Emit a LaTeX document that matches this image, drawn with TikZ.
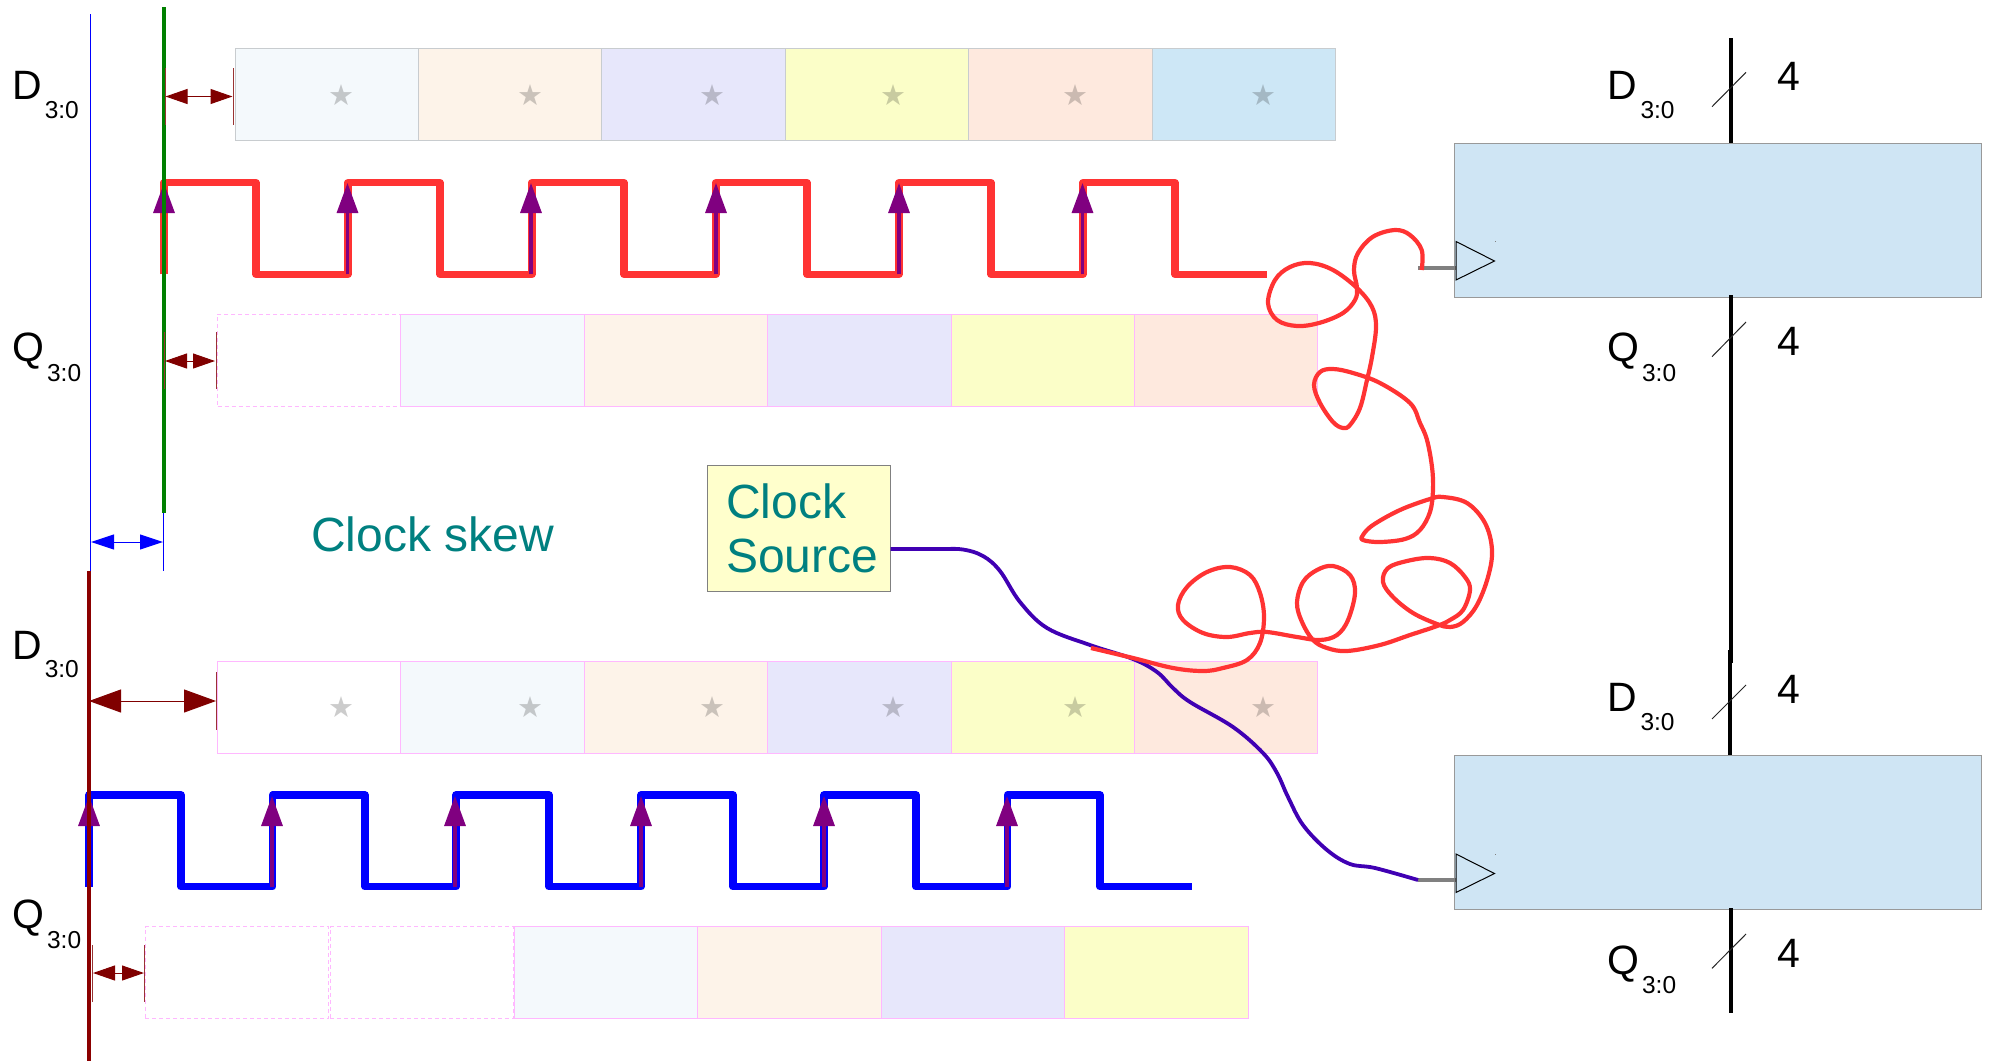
\documentclass[tikz,border=0pt]{standalone}
\usepackage{fontspec}
\setmainfont{Liberation Sans}
\newfontfamily\starfont{DejaVu Sans}
\usetikzlibrary{arrows.meta}
\definecolor{cA}{HTML}{F4F9FC}
\definecolor{cB}{HTML}{FDF3E9}
\definecolor{cC}{HTML}{E7E7FB}
\definecolor{cD}{HTML}{FBFEC8}
\definecolor{cE}{HTML}{FEE9DE}
\definecolor{cF}{HTML}{CDE7F6}
\definecolor{pinkline}{HTML}{FFB8FF}
\definecolor{greyline}{HTML}{C8CCCF}
\definecolor{clkred}{HTML}{FF3333}
\definecolor{wirepurple}{HTML}{4000B3}
\definecolor{arrowpurple}{HTML}{800080}
\definecolor{dimred}{HTML}{800000}
\definecolor{skewteal}{HTML}{008080}
\definecolor{blockfill}{HTML}{CFE5F4}
\definecolor{skewgreen}{HTML}{008000}
\definecolor{edgedark}{HTML}{8B0000}
\definecolor{srcfill}{HTML}{FFFFCC}
\newcommand{\subt}[2]{#1\hspace{3pt}\raisebox{-#2pt}{\fontsize{24.5}{24.5}\selectfont 3:0}}
\tikzset{
  cell/.style={anchor=north west,inner sep=0pt,outer sep=0pt,minimum width=183.4pt,minimum height=92pt,line width=1pt},
  cellgrey/.style={cell,draw=greyline},
  cellpink/.style={cell,draw=pinkline},
  celldash/.style={cell,draw=pinkline,dash pattern=on 4pt off 3pt},
  starmark/.style={inner sep=0pt,text=black,text opacity=0.2,font=\starfont\fontsize{29}{29}\selectfont},
  siglabel/.style={anchor=base west,inner sep=0pt,font=\fontsize{41}{41}\selectfont},
  widthlabel/.style={anchor=base west,inner sep=0pt,font=\fontsize{41}{41}\selectfont},
  tealtext/.style={anchor=base west,inner sep=0pt,text=skewteal,font=\fontsize{48}{54}\selectfont},
  clockwave/.style={line width=7.5pt,line join=round},
  edgearrow/.style={draw=arrowpurple,line width=3.3pt,-{Triangle[length=30pt,width=21pt]},arrowpurple},
  dimsmall/.style={draw=dimred,line width=1pt,{Triangle[length=22pt,width=15pt]}-{Triangle[length=22pt,width=15pt]},dimred},
  dimbig/.style={draw=dimred,line width=1pt,{Triangle[length=32pt,width=23pt]}-{Triangle[length=32pt,width=23pt]},dimred},
  dimtick/.style={draw=dimred!80,line width=1pt},
  busline/.style={line width=4pt,black},
  busslash/.style={line width=1pt,black!85},
  ffblock/.style={anchor=north west,inner sep=0pt,outer sep=0pt,minimum width=526.5pt,minimum height=154pt,fill=blockfill,draw=black!40,line width=1pt},
  clkstub/.style={line width=4pt,black!50},
  clktri/.style={line width=1pt,black},
  wirered/.style={line width=4.2pt,clkred,line join=round},
  wireblue/.style={line width=3.8pt,wirepurple,line join=round},
  x=1pt,y=-1pt
}
\begin{document}
\begin{tikzpicture}
\useasboundingbox (0,0) rectangle (1990,1061);
% row 1
\node[cellgrey,fill=cA] (ra1) at (235,48) {};
\node[cellgrey,fill=cB] (ra2) at (418.4,48) {};
\node[cellgrey,fill=cC] (ra3) at (601.8,48) {};
\node[cellgrey,fill=cD] (ra4) at (785.2,48) {};
\node[cellgrey,fill=cE] (ra5) at (968.6,48) {};
\node[cellgrey,fill=cF] (ra6) at (1152,48) {};
\foreach \n/\sx in {1/341,2/530,3/712,4/893,5/1075,6/1263}{\node[starmark] (sa\n) at (\sx,95) {★};}
% row 2
\node[celldash] (rb1) at (217.5,314) {};
\node[cellpink,fill=cA] (rb2) at (400.9,314) {};
\node[cellpink,fill=cB] (rb3) at (584.3,314) {};
\node[cellpink,fill=cC] (rb4) at (767.7,314) {};
\node[cellpink,fill=cD] (rb5) at (951.1,314) {};
\node[cellpink,fill=cE] (rb6) at (1134.5,314) {};
% row 3
\node[cellpink] (rc1) at (217.5,661.5) {};
\node[cellpink,fill=cA] (rc2) at (400.9,661.5) {};
\node[cellpink,fill=cB] (rc3) at (584.3,661.5) {};
\node[cellpink,fill=cC] (rc4) at (767.7,661.5) {};
\node[cellpink,fill=cD] (rc5) at (951.1,661.5) {};
\node[cellpink,fill=cE] (rc6) at (1134.5,661.5) {};
\foreach \n/\sx in {1/341,2/530,3/712,4/893,5/1075,6/1263}{\node[starmark] (sc\n) at (\sx,707) {★};}
% row 4
\node[celldash] (rd1) at (145.3,926.5) {};
\node[celldash] (rd2) at (330,926.5) {};
\node[cellpink,fill=cA] (rd3) at (514.4,926.5) {};
\node[cellpink,fill=cB] (rd4) at (697.8,926.5) {};
\node[cellpink,fill=cC] (rd5) at (881.2,926.5) {};
\node[cellpink,fill=cD] (rd6) at (1064.6,926.5) {};
% clocks
\draw[clockwave,clkred] (164,274.3)--(164,182.7)--(256,182.7)--(256,274.3)--(348,274.3)--(348,182.7)--(440,182.7)--(440,274.3)--(532,274.3)--(532,182.7)--(624,182.7)--(624,274.3)--(716,274.3)--(716,182.7)--(807,182.7)--(807,274.3)--(899,274.3)--(899,182.7)--(991,182.7)--(991,274.3)--(1083,274.3)--(1083,182.7)--(1175,182.7)--(1175,274.3)--(1267,274.3);
\draw[clockwave,blue] (89,886.7)--(89,795)--(181,795)--(181,886.7)--(272.7,886.7)--(272.7,795)--(365,795)--(365,886.7)--(456,886.7)--(456,795)--(549,795)--(549,886.7)--(641,886.7)--(641,795)--(733,795)--(733,886.7)--(824,886.7)--(824,795)--(916,795)--(916,886.7)--(1007.5,886.7)--(1007.5,795)--(1100,795)--(1100,886.7)--(1192,886.7);
\foreach \ax in {164,347.5,531,716,899,1082.5}{\draw[edgearrow] (\ax,274.3)--(\ax,183);}
\foreach \ax in {89,272,455,641,824,1007}{\draw[edgearrow] (\ax,886.7)--(\ax,796);}
% reference lines
\draw[line width=1pt,blue] (90.5,14)--(90.5,571);
\draw[line width=3.3pt,skewgreen] (164,7)--(164,513);
\draw[line width=3.7pt,edgedark] (89,571)--(89,1061);
% dimension marks
\draw[dimtick] (165,68)--(165,125);
\draw[dimtick] (233.5,68)--(233.5,125);
\coordinate (da1) at (165.5,96.5); \coordinate (da2) at (232.5,96.5);
\draw[dimsmall] (da1)--(da2);
\draw[dimtick] (164.5,332)--(164.5,389);
\draw[dimtick] (216,332)--(216,389);
\coordinate (db1) at (165,361); \coordinate (db2) at (215,361);
\draw[dimsmall] (db1)--(db2);
\draw[dimtick] (216,672)--(216,730);
\coordinate (dc1) at (89,701); \coordinate (dc2) at (216,701);
\draw[dimbig] (dc1)--(dc2);
\draw[dimtick] (92.5,945)--(92.5,1002);
\draw[dimtick] (144.5,945)--(144.5,1002);
\coordinate (dd1) at (93,973); \coordinate (dd2) at (144,973);
\draw[dimsmall] (dd1)--(dd2);
\draw[line width=1pt,blue] (163.5,513)--(163.5,571);
\coordinate (de1) at (91,542); \coordinate (de2) at (163,542);
\draw[line width=1pt,blue,{Triangle[length=23pt,width=15pt]}-{Triangle[length=23pt,width=15pt]}] (de1)--(de2);
% left labels
\node[siglabel] (ld1) at (12,99) {\subt{D}{19}};
\node[siglabel] (lq1) at (12,361) {\subt{Q}{20}};
\node[siglabel] (ld2) at (12,659) {\subt{D}{18}};
\node[siglabel] (lq2) at (12,928) {\subt{Q}{20}};
\node[tealtext] (skew) at (311,551) {Clock skew};
% clock source
\node[anchor=north west,inner sep=0pt,outer sep=0pt,minimum width=183.4pt,minimum height=126.3pt,fill=srcfill,draw=black!50,line width=1pt] (src) at (707.3,465) {};
\node[tealtext] (srca) at (726,518.5) {Clock};
\node[tealtext] (srcb) at (726,572.5) {Source};
% buses
\draw[busline] (1730.7,38)--(1730.7,143);
\draw[busline] (1730.7,295)--(1730.7,663);
\draw[busline] (1730.4,650)--(1730.4,756);
% blocks
\node[ffblock] (ffa) at (1454.5,143) {};
\node[ffblock] (ffb) at (1454.5,755.5) {};
\draw[busline] (1730.7,295)--(1730.7,330);
\draw[busline] (1730.7,908)--(1730.7,1013);
% bus slashes
\draw[busslash] (1712,106.7)--(1746,72.3);
\draw[busslash] (1712,356.7)--(1746,322);
\draw[busslash] (1712,719)--(1746,685);
\draw[busslash] (1712,968.3)--(1746,934);
% right labels
\node[siglabel] (rd1l) at (1607.7,99) {\subt{D}{19}};
\node[siglabel] (rq1l) at (1607,361) {\subt{Q}{20}};
\node[siglabel] (rd2l) at (1607.7,711.7) {\subt{D}{19}};
\node[siglabel] (rq2l) at (1607,974) {\subt{Q}{19}};
\node[widthlabel] (wa) at (1777,90) {4};
\node[widthlabel] (wb) at (1777,355) {4};
\node[widthlabel] (wc) at (1777,703) {4};
\node[widthlabel] (wd) at (1777,967) {4};
% clock pins
\coordinate (pina) at (1418,268); \coordinate (pinb) at (1418,880);
\draw[clkstub] (pina)--(1456,268);
\draw[clkstub] (pinb)--(1456,880);
\draw[clktri] (1456,241.5)--(1494.5,261)--(1456,280)--cycle;
\draw[clktri] (1456,854)--(1494.5,873.5)--(1456,892.5)--cycle;
\fill[black!50] (1494.5,241)rectangle(1495.5,242);
\fill[black!50] (1494.5,853.5)rectangle(1495.5,854.5);
% wires
\coordinate (srcout) at (src.east |- 0,549);
\draw[wireblue] plot[smooth,tension=0.6] coordinates {(srcout) (940,549) (963,549.5) (983,556) (1000,571) (1020,602) (1047,628) (1090,645) (1133,659) (1157,672) (1173,688) (1190,702) (1233,727) (1263,753) (1277,773) (1288,797) (1303,825) (1327,850) (1350,864) (1375,868) (pinb)};
\draw[wirered] plot[smooth,tension=0.6] coordinates {(1421.7,270) (1421.7,250) (1410,235) (1395,230) (1373,236.7) (1358,253) (1354,270) (1357,288) (1355,300) (1343,313) (1320,322.7) (1297,326) (1277,320) (1268,303) (1275,280) (1290,267) (1310,263) (1333,270) (1357,288) (1372,307) (1376,327) (1372,357) (1367,380) (1360,408) (1350,425) (1343,428) (1333,422) (1320,403) (1314,385) (1320,372) (1333,369) (1353,373) (1380,383) (1410,403) (1420,423) (1427,440) (1432,467) (1433,490) (1430,512) (1420,530) (1405,539) (1380,542) (1363,540) (1363,535) (1373,525) (1400,510) (1430,499) (1443,497) (1467,503) (1485,523) (1492,550) (1488,577) (1477,605) (1463,622) (1450,627) (1437,624) (1413,613) (1393,597) (1383,582) (1388,568) (1407,561) (1430,558) (1450,563) (1465,577) (1470,590) (1463,610) (1450,620) (1437,626) (1410,635) (1380,645) (1347,651) (1327,648) (1313,640) (1302,622) (1297,603) (1303,582) (1317,570) (1333,566) (1350,575) (1355,593) (1348,620) (1337,635) (1320,640) (1297,637) (1267,632) (1250,633) (1227,637) (1203,633) (1183,620) (1178,605) (1187,587) (1207,572) (1230,567) (1250,575) (1260,593) (1264,617) (1260,643) (1247,660) (1223,668) (1203,671) (1173,668) (1133,658) (1091,648)};
\end{tikzpicture}
\end{document}
